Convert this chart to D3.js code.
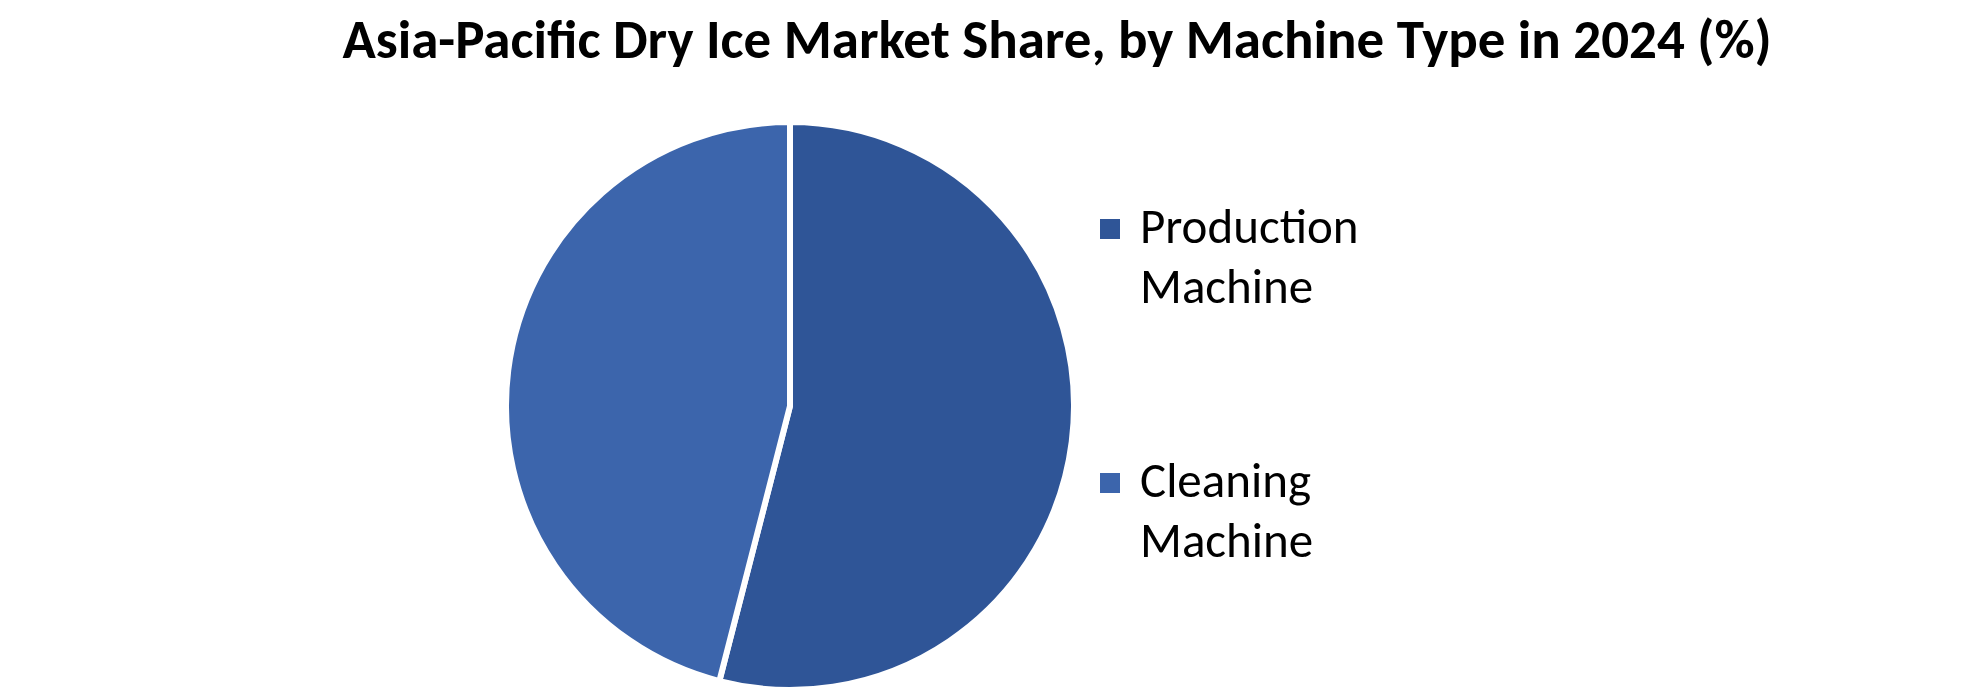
<!DOCTYPE html>
<html>
<head>
<meta charset="utf-8">
<script src="https://cdn.jsdelivr.net/npm/d3@7"></script>
<style>
  html, body { margin: 0; padding: 0; background: #fff; }
  svg { display: block; }
</style>
</head>
<body>
<svg id="chart"></svg>
<script>
// chart data
const title = "Asia-Pacific Dry Ice Market Share, by Machine Type in 2024 (%)";
const categories = ["Production Machine", "Cleaning Machine"];
const legendLines = [["Production", "Machine"], ["Cleaning", "Machine"]];
const shares = [54, 46];
const colors = ["#2F5597", "#3C65AC"];

const width = 1980;
const height = 694;

const svg = d3.select("#chart")
  .attr("width", width)
  .attr("height", height)
  .attr("viewBox", `0 0 ${width} ${height}`);

// title, fitted to the width it has in the original
const titleText = svg.append("text")
  .attr("x", 1057)
  .attr("y", 58)
  .attr("text-anchor", "middle")
  .attr("font-family", "Carlito, Calibri, Lato, sans-serif")
  .attr("font-weight", "bold")
  .attr("font-size", 55)
  .attr("fill", "#000")
  .text(title);
const tw = titleText.node().getComputedTextLength();
if (Math.abs(tw - 1425) > 10) {
  titleText.attr("textLength", 1425).attr("lengthAdjust", "spacingAndGlyphs");
}

// pie
const cx = 790, cy = 406, r = 284;
const pie = d3.pie().sort(null).value(d => d);
const arc = d3.arc().innerRadius(0).outerRadius(r);

svg.append("g")
  .attr("transform", `translate(${cx},${cy})`)
  .selectAll("path")
  .data(pie(shares))
  .join("path")
  .attr("d", arc)
  .attr("fill", (d, i) => colors[i])
  .attr("stroke", "#fff")
  .attr("stroke-width", 6)
  .attr("stroke-linejoin", "round");

// legend
const legendY = d3.scalePoint().domain(categories).range([243, 497]);

const item = svg.append("g")
  .selectAll("g")
  .data(categories)
  .join("g")
  .attr("transform", d => `translate(1100,${legendY(d)})`);

item.append("rect")
  .attr("x", 0)
  .attr("y", -24)
  .attr("width", 20)
  .attr("height", 20)
  .attr("fill", (d, i) => colors[i]);

item.append("text")
  .attr("font-family", "Carlito, Calibri, Lato, sans-serif")
  .attr("font-size", 49)
  .attr("fill", "#000")
  .selectAll("tspan")
  .data((d, i) => legendLines[i])
  .join("tspan")
  .attr("x", 40)
  .attr("y", (d, j) => j * 60)
  .text(d => d);
</script>
</body>
</html>
